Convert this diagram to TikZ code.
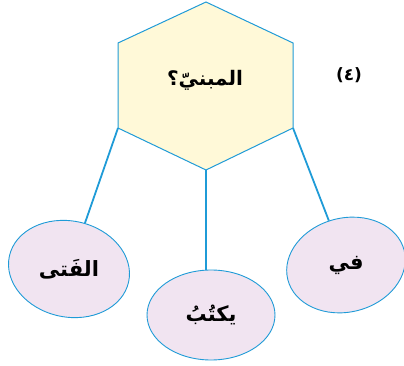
\documentclass[tikz,border=0pt]{standalone}
\usepackage{fontspec}
\usepackage{graphicx}
\newfontfamily\arabicfont[Script=Arabic]{DejaVu Sans}
\TeXXeTstate=1
\usepackage{tikz}
\usetikzlibrary{shapes.geometric}
\definecolor{edgeBlue}{HTML}{1F9BD7}
\definecolor{hexFill}{HTML}{FFF9D8}
\definecolor{ovalFill}{HTML}{F1E4F1}

\begin{document}
\begin{tikzpicture}[x=1pt,y=-1pt,
    word/.style={ellipse,draw=edgeBlue,fill=ovalFill,line width=0.9pt,inner sep=0pt,font=\arabicfont\bfseries\fontsize{21}{24}\selectfont},
    link/.style={draw=edgeBlue,line width=1.8pt}]
    \useasboundingbox (0,0) rectangle (404,366);
    % hexagon
    \coordinate (hexT) at (206,2);
    \coordinate (hexTR) at (293,43);
    \coordinate (hexBR) at (293,128);
    \coordinate (hexB) at (206,170);
    \coordinate (hexBL) at (118,128);
    \coordinate (hexTL) at (118,43);
    \draw[draw=edgeBlue,fill=hexFill,line width=1pt] (hexT) -- (hexTR) -- (hexBR) -- (hexB) -- (hexBL) -- (hexTL) -- cycle;
    \node[font=\arabicfont\bfseries\fontsize{20}{23}\selectfont] (title) at (205,80) {\beginR المبنيّ؟\endR};
    \node[font=\arabicfont\bfseries\fontsize{17}{20}\selectfont] (num) at (349,75) {\beginR(٤)\endR};
    % answers
    \node[word,minimum width=122pt,minimum height=96pt,rotate=-12] (fata) at (69,269) {\rotatebox{12}{\beginR الفَتى\endR}};
    \node[word,minimum width=128pt,minimum height=90pt] (yaktub) at (211,315) {\beginR يكتُبُ\endR};
    \node[word,minimum width=120pt,minimum height=94pt,rotate=14] (fi) at (346,265) {\rotatebox{-14}{\beginR في\endR}};
    \draw[link] (hexBL) -- (fata);
    \draw[link] (hexB) -- (hexB |- yaktub.north);
    \draw[link] (hexBR) -- (fi);
\end{tikzpicture}
\end{document}
